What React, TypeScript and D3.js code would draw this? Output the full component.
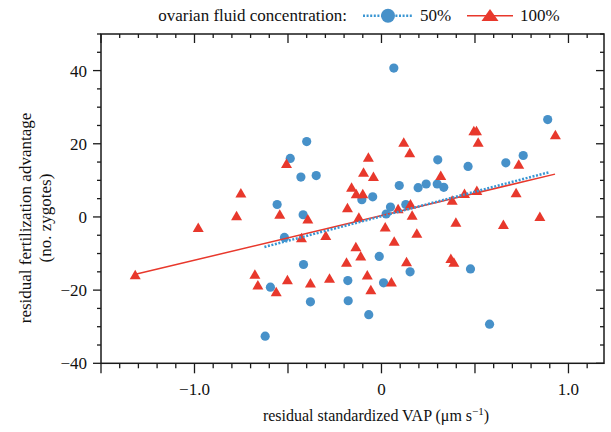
import React from "react";
import * as d3 from "d3";

// residual VAP (x) vs residual fertilization advantage (y)
const conc50: [number, number][] = [
  [-0.4, 20.6], [-0.488, 16.0], [-0.431, 10.9], [-0.349, 11.3], [0.066, 40.7],
  [0.889, 26.6], [-0.105, 4.7], [-0.047, 5.5], [0.301, 15.6], [0.463, 13.8],
  [0.665, 14.8], [0.758, 16.8], [0.095, 8.6], [0.196, 8.0], [0.239, 9.0],
  [0.298, 9.0], [0.333, 8.1], [-0.558, 3.4], [-0.419, 0.6], [-0.519, -5.6],
  [-0.417, -13.0], [-0.18, -17.4], [-0.594, -19.2], [-0.38, -23.2], [-0.178, -22.9],
  [-0.622, -32.6], [0.048, 2.7], [0.13, 3.4], [0.025, 0.8], [-0.012, -10.8],
  [0.153, -15.0], [0.476, -14.2], [0.011, -18.0], [-0.068, -26.7], [0.578, -29.3],
];

const conc100: [number, number][] = [
  [-0.508, 14.7], [-0.752, 6.6], [0.93, 22.5], [0.494, 23.6], [0.508, 23.6],
  [0.517, 20.5], [0.119, 20.5], [0.151, 17.6], [-0.07, 16.4], [-0.096, 12.3],
  [-0.043, 11.1], [-0.16, 8.2], [-0.135, 6.4], [-0.1, 6.4], [0.734, 14.5],
  [0.317, 11.4], [0.444, 6.5], [0.51, 7.3], [0.72, 6.7], [0.378, 4.6],
  [-0.775, 0.4], [-0.544, 0.8], [-0.394, -0.5], [-0.98, -2.8], [-0.182, 2.6],
  [-0.428, -5.6], [-0.298, -5.0], [-1.317, -15.7], [-0.677, -15.6], [-0.661, -18.5],
  [-0.503, -17.1], [-0.38, -18.0], [-0.278, -16.7], [-0.187, -12.3], [-0.563, -20.4],
  [-0.121, 0.0], [0.155, 3.6], [0.089, 2.3], [0.164, 0.5], [0.398, -1.4],
  [0.652, -2.0], [0.847, 0.2], [0.02, -2.7], [0.189, -4.4], [0.068, -6.6],
  [-0.137, -8.1], [-0.111, -10.6], [0.134, -12.2], [0.371, -11.3], [0.387, -12.3],
  [-0.076, -15.8], [0.053, -17.7], [-0.057, -19.8],
];

// fitted lines, end points
const fit50: [number, number][] = [[-0.626, -8.2], [0.895, 12.2]];
const fit100: [number, number][] = [[-1.31, -15.6], [0.928, 11.7]];

const xLabels = [-1, 0, 1];
const yLabels = [-40, -20, 0, 20, 40];

const BLUE = "#4791c9";
const BLUE_LINE = "#3a96d3";
const RED = "#e8382c";
const FONT = "Liberation Serif, DejaVu Serif, Times New Roman, serif";

const W = 611;
const H = 432;
const box = { left: 101, right: 604, top: 34, bottom: 363.3 };

const fmtX = (v: number) => (v === 0 ? "0" : v.toFixed(1).replace("-", "\u2212"));
const fmtY = (v: number) => String(v).replace("-", "\u2212");

function tri(cx: number, cy: number, w: number, h: number) {
  return `M${cx},${cy - h / 2}L${cx + w / 2},${cy + h / 2}L${cx - w / 2},${cy + h / 2}Z`;
}

export default function App() {
  const x = d3.scaleLinear().domain([-1.5, 1.19]).range([box.left, box.right]);
  const y = d3.scaleLinear().domain([-40, 50]).range([box.bottom, box.top]);
  const line = d3
    .line<[number, number]>()
    .x((d) => x(d[0]))
    .y((d) => y(d[1]));

  const xTicks = d3.range(-15, 12).map((i) => i / 10);
  const yTicks = d3.range(-40, 51, 5);
  const isMajorX = (v: number) => Math.abs(v * 2 - Math.round(v * 2)) < 1e-6;
  const isMajorY = (v: number) => v % 20 === 0;

  const axisColor = "#1a1a1a";

  return (
    <svg
      width={W}
      height={H}
      style={{ position: "absolute", left: 0, top: 0, background: "#fff", fontFamily: FONT }}
    >
      {/* legend */}
      <g>
        <text x={347} y={21} fontSize={17} textAnchor="end" fill="#111">
          ovarian fluid concentration:
        </text>
        <line x1={363} x2={413} y1={15.7} y2={15.7} stroke={BLUE_LINE} strokeWidth={2.5} strokeDasharray="2,1.6" />
        <circle cx={388} cy={15.7} r={7} fill={BLUE} />
        <text x={420} y={21} fontSize={17} fill="#111">50%</text>
        <line x1={467} x2={513} y1={15.7} y2={15.7} stroke={RED} strokeWidth={1.5} />
        <path d={tri(490, 15, 17, 12)} fill={RED} />
        <text x={520} y={21} fontSize={17} fill="#111">100%</text>
      </g>

      {/* frame */}
      <rect
        x={box.left}
        y={box.top}
        width={box.right - box.left}
        height={box.bottom - box.top}
        fill="none"
        stroke={axisColor}
        strokeWidth={1.5}
      />

      {/* x ticks: bottom outward, top inward */}
      {xTicks.map((v) => {
        const px = x(v);
        const len = isMajorX(v) ? 10 : 5;
        const lenTop = isMajorX(v) ? 9 : 4;
        return (
          <g key={`xt${v}`} stroke={axisColor} strokeWidth={1.3}>
            <line x1={px} x2={px} y1={box.bottom} y2={box.bottom + len} />
            <line x1={px} x2={px} y1={box.top} y2={box.top + lenTop} />
          </g>
        );
      })}

      {/* y ticks: left outward, right inward */}
      {yTicks.map((v) => {
        const py = y(v);
        const len = isMajorY(v) ? 8 : 4;
        return (
          <g key={`yt${v}`} stroke={axisColor} strokeWidth={1.3}>
            <line x1={box.left} x2={box.left - len} y1={py} y2={py} />
            <line x1={box.right} x2={box.right - len} y1={py} y2={py} />
          </g>
        );
      })}

      {/* tick labels */}
      {xLabels.map((v) => (
        <text key={`xl${v}`} x={x(v)} y={395} fontSize={17} textAnchor="middle" fill="#111">
          {fmtX(v)}
        </text>
      ))}
      {yLabels.map((v) => (
        <text key={`yl${v}`} x={87} y={y(v)} dy="0.35em" fontSize={17} textAnchor="end" fill="#111">
          {fmtY(v)}
        </text>
      ))}

      {/* axis titles */}
      <text x={376} y={421} fontSize={16} textAnchor="middle" fill="#111">
        residual standardized VAP (μm s
        <tspan dy={-6} fontSize={11}>−1</tspan>
        <tspan dy={6}>)</tspan>
      </text>
      <g transform="translate(31,218) rotate(-90)">
        <text x={0} y={0} fontSize={17} textAnchor="middle" fill="#111">
          residual fertilization advantage
        </text>
        <text x={0} y={20} fontSize={17} textAnchor="middle" fill="#111">
          (no. zygotes)
        </text>
      </g>

      {/* points */}
      {conc50.map((d, i) => (
        <circle key={`b${i}`} cx={x(d[0])} cy={y(d[1])} r={4.6} fill={BLUE} />
      ))}
      {conc100.map((d, i) => (
        <path key={`r${i}`} d={tri(x(d[0]), y(d[1]), 11, 9.5)} fill={RED} />
      ))}

      {/* fitted lines */}
      <path d={line(fit100) || ""} fill="none" stroke={RED} strokeWidth={1.5} />
      <path d={line(fit50) || ""} fill="none" stroke={BLUE_LINE} strokeWidth={2.5} strokeDasharray="2,1.6" />
    </svg>
  );
}
